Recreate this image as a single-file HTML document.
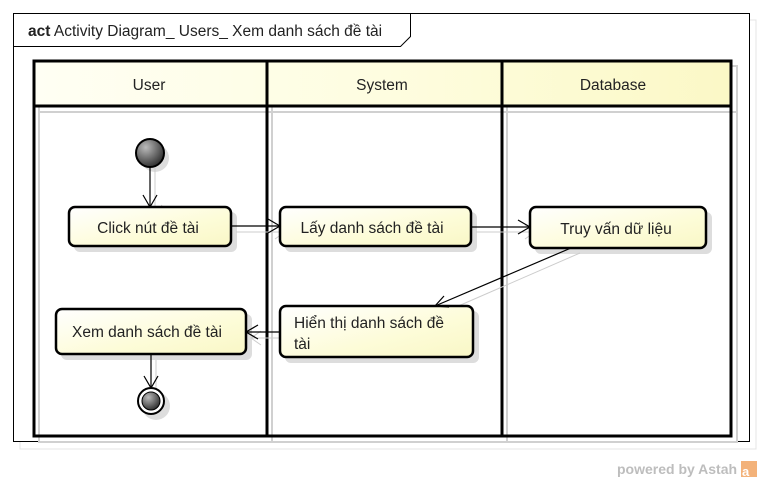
<!DOCTYPE html>
<html><head><meta charset="utf-8"><style>
html,body{margin:0;padding:0;background:#fff;}
svg{display:block;}
text{font-family:"Liberation Sans",Arial,sans-serif;font-size:15.5px;fill:#222;}
</style></head><body>
<svg width="762" height="482" viewBox="0 0 762 482" xmlns="http://www.w3.org/2000/svg">
<defs>
<linearGradient id="g" x1="0" y1="0" x2="1" y2="1">
<stop offset="0" stop-color="#ffffff"/><stop offset="0.6" stop-color="#fdfcd8"/><stop offset="1" stop-color="#f9f7c6"/>
</linearGradient>
<linearGradient id="h" x1="0" y1="0" x2="1" y2="0">
<stop offset="0" stop-color="#fffff4"/><stop offset="0.5" stop-color="#fefde0"/><stop offset="1" stop-color="#fbf8c6"/>
</linearGradient>
<radialGradient id="c" cx="0.35" cy="0.3" r="0.8">
<stop offset="0" stop-color="#bbb"/><stop offset="1" stop-color="#222"/>
</radialGradient>
</defs>
<rect x="20" y="20" width="736" height="429" fill="none" stroke="#e4e4e4" stroke-width="1"/>
<rect x="13.5" y="13.5" width="736" height="428" fill="#fff" stroke="#000" stroke-width="1"/>
<path d="M13.5 46.5 H400.5 L410.5 36.5 V13.5" fill="none" stroke="#000"/>
<text x="28" y="36" style="font-size:15.5px"><tspan font-weight="bold">act</tspan> Activity Diagram_ Users_ Xem danh sách đề tài</text>

<rect x="39" y="66" width="698" height="376" fill="none" stroke="#d0d0d0" stroke-width="2"/>
<line x1="272" y1="66" x2="272" y2="442" stroke="#d0d0d0" stroke-width="2"/>
<line x1="507" y1="66" x2="507" y2="442" stroke="#d0d0d0" stroke-width="2"/>
<line x1="39" y1="112" x2="737" y2="112" stroke="#d0d0d0" stroke-width="2"/>
<rect x="34" y="61" width="697" height="45" fill="url(#h)"/>
<rect x="34" y="61" width="697" height="375" fill="none" stroke="#000" stroke-width="3"/>
<line x1="34" y1="106" x2="731" y2="106" stroke="#000" stroke-width="3"/>
<line x1="267" y1="61" x2="267" y2="436" stroke="#000" stroke-width="3"/>
<line x1="502" y1="61" x2="502" y2="436" stroke="#000" stroke-width="3"/>
<text x="149" y="90" text-anchor="middle">User</text>
<text x="382" y="90" text-anchor="middle">System</text>
<text x="613" y="90" text-anchor="middle">Database</text>

<g fill="#ddd">
<circle cx="155" cy="158" r="14"/>
<rect x="74" y="212" width="163" height="40" rx="6"/>
<rect x="285" y="212" width="192" height="40" rx="6"/>
<rect x="535" y="212" width="177" height="42" rx="6"/>
<rect x="285" y="311" width="194" height="52" rx="6"/>
<rect x="61" y="314" width="191" height="46" rx="6"/>
<circle cx="156" cy="406" r="14"/>
</g>
<g stroke="#ccc" fill="none" stroke-width="1">
<line x1="155" y1="168" x2="155" y2="215"/><path d="M148 205 L155 215 L162 205"/>
<line x1="236" y1="232" x2="285" y2="232"/><path d="M275 225 L285 232 L275 239"/>
<line x1="476" y1="232" x2="535" y2="232"/><path d="M525 225 L535 232 L525 239"/>
<line x1="580" y1="253" x2="440" y2="314"/>
<line x1="285" y1="338" x2="251" y2="338"/><path d="M261 331 L251 338 L261 345"/>
<line x1="156" y1="360" x2="156" y2="395"/>
</g>

<circle cx="150" cy="153" r="14" fill="url(#c)" stroke="#000" stroke-width="2"/>
<rect x="69" y="207" width="162" height="39" rx="6" fill="url(#g)" stroke="#000" stroke-width="2.5"/>
<text x="148" y="233" text-anchor="middle">Click nút đề tài</text>
<rect x="280" y="207" width="191" height="39" rx="6" fill="url(#g)" stroke="#000" stroke-width="2.5"/>
<text x="372" y="233" text-anchor="middle">Lấy danh sách đề tài</text>
<rect x="530" y="207" width="176" height="41" rx="6" fill="url(#g)" stroke="#000" stroke-width="2.5"/>
<text x="616" y="234" text-anchor="middle">Truy vấn dữ liệu</text>
<rect x="280" y="306" width="193" height="51" rx="6" fill="url(#g)" stroke="#000" stroke-width="2.5"/>
<text x="294" y="328">Hiển thị danh sách đề</text>
<text x="294" y="349">tài</text>
<rect x="56" y="309" width="190" height="45" rx="6" fill="url(#g)" stroke="#000" stroke-width="2.5"/>
<text x="72" y="337">Xem danh sách đề tài</text>
<circle cx="151" cy="401" r="13" fill="#fff" stroke="#000" stroke-width="2"/>
<circle cx="151" cy="401" r="9" fill="url(#c)" stroke="#000" stroke-width="1"/>

<g stroke="#000" fill="none" stroke-width="1.2">
<line x1="150" y1="167" x2="150" y2="207"/><path d="M143 195 L150 207 L157 195"/>
<line x1="231" y1="226" x2="280" y2="226"/><path d="M268 219 L280 226 L268 233"/>
<line x1="471" y1="227" x2="530" y2="227"/><path d="M518 220 L530 227 L518 234"/>
<line x1="571" y1="248" x2="435" y2="306"/><path d="M444 296 L435 306 L449 307"/>
<line x1="280" y1="332" x2="246" y2="332"/><path d="M258 325 L246 332 L258 339"/>
<line x1="151" y1="354" x2="151" y2="388"/><path d="M144 376 L151 388 L158 376"/>
</g>

<text x="617" y="474" style="font-size:14px;font-weight:bold;fill:#bdbdbd">powered by Astah</text>
<rect x="741" y="461" width="16" height="16" fill="#f3b27a"/>
<text x="742" y="476" style="font-size:13px;font-weight:bold;fill:#fff">a</text>
</svg>
</body></html>
